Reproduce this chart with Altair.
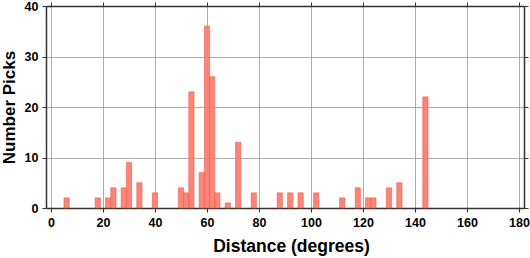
import altair as alt
import pandas as pd

distance = [6, 18, 22, 24, 28, 30, 34, 40, 50, 52, 54, 58, 60, 62, 64, 68, 72, 78,
            88, 92, 96, 102, 112, 118, 122, 124, 130, 134, 144]
picks = [2, 2, 2, 4, 4, 9, 5, 3, 4, 3, 23, 7, 36, 26, 3, 1, 13, 3,
         3, 3, 3, 3, 2, 4, 2, 2, 4, 5, 22]
x_ticks = list(range(0, 181, 20))
y_ticks = list(range(0, 41, 10))

df = pd.DataFrame({"d": distance, "n": picks})

font = "Liberation Sans"

xscale = alt.Scale(domain=[0, 180], nice=False, zero=False)
yscale = alt.Scale(domain=[0, 40], nice=False)

common = dict(domainColor="#333333", domainWidth=1.5, tickColor="#333333",
              tickSize=4, tickWidth=1)

bars = alt.Chart(df).transform_calculate(
    x1="datum.d - 1", x2="datum.d + 1"
).mark_bar(color="#fa8072", stroke="#f0503c", strokeWidth=0.6, opacity=0.95,
           orient="vertical").encode(
    x=alt.X("x1:Q", scale=xscale, title="Distance (degrees)",
            axis=alt.Axis(values=x_ticks, grid=True, gridColor="#999999", gridWidth=0.8,
                          labelFont=font, labelFontSize=12.5,
                          labelFontWeight="bold", labelColor="black", labelPadding=4,
                          titleFont=font, titleFontSize=17.5, titleFontWeight="bold",
                          titleColor="black", titlePadding=9, titleX=245, **common)),
    x2="x2:Q",
    y=alt.Y("n:Q", scale=yscale, title="Number Picks",
            axis=alt.Axis(values=y_ticks, grid=True, gridColor="#999999", gridWidth=0.8,
                          labelFont=font, labelFontSize=12.5,
                          labelFontWeight="bold", labelColor="black", labelPadding=4,
                          titleFont=font, titleFontSize=17, titleFontWeight="bold",
                          titleColor="black", titlePadding=6, **common)),
    y2=alt.datum(0),
)

frame = alt.Chart(df).mark_point(opacity=0).encode(
    x=alt.X("d:Q", scale=xscale,
            axis=alt.Axis(orient="top", values=x_ticks, labels=False, title=None, grid=False,
                          **common)),
    y=alt.Y("n:Q", scale=yscale,
            axis=alt.Axis(orient="right", values=y_ticks, labels=False, title=None, grid=False,
                          **common)),
)

chart = alt.layer(bars, frame).resolve_axis(x="independent", y="independent").properties(
    width=530, height=258, background="white",
    autosize=alt.AutoSizeParams(type="fit", contains="padding"),
    padding={"left": 0, "top": 0, "right": 0, "bottom": 3},
).configure_view(stroke=None)

chart.save("out.html", embed_options={"renderer": "svg", "actions": False})
